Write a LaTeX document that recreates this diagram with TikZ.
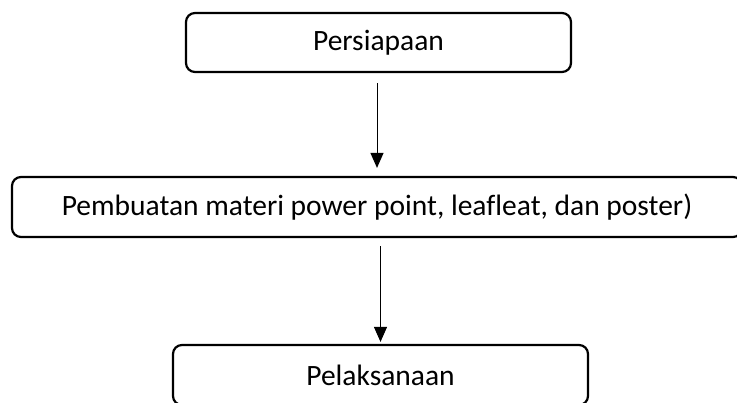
\documentclass[tikz,border=0pt]{standalone}
\usepackage{fontspec}
\setmainfont{Carlito}[Ligatures=NoCommon]
\usetikzlibrary{arrows.meta}
\begin{document}
\begin{tikzpicture}[x=1pt,y=-1pt,
  box/.style={draw=black, line width=2.2pt, rounded corners=9pt, rectangle,
    inner sep=0pt, font=\fontsize{29.5}{34}\selectfont},
  arr/.style={draw=black, line width=1pt, -{Triangle[width=13pt,length=15pt]}}]
\useasboundingbox (0,0) rectangle (737,403);
\clip (0,0) rectangle (737,403);
\node[box, minimum width=385pt, minimum height=59pt] (b1) at (378.5,42.5) {Persiapaan};
\node[box, minimum width=730pt, minimum height=60pt] (b2) at (377,207) {Pembuatan materi power point, leafleat, dan poster)};
\node[box, minimum width=415pt, minimum height=60pt] (b3) at (380.5,375) {Pelaksanaan};
\draw[arr, shorten <=10pt, shorten >=8pt] (b1.south -| b2.north) -- (b2.north);
\draw[arr, shorten <=8pt, shorten >=2pt] (b2.south -| b3.north) -- (b3.north);
\end{tikzpicture}
\end{document}
